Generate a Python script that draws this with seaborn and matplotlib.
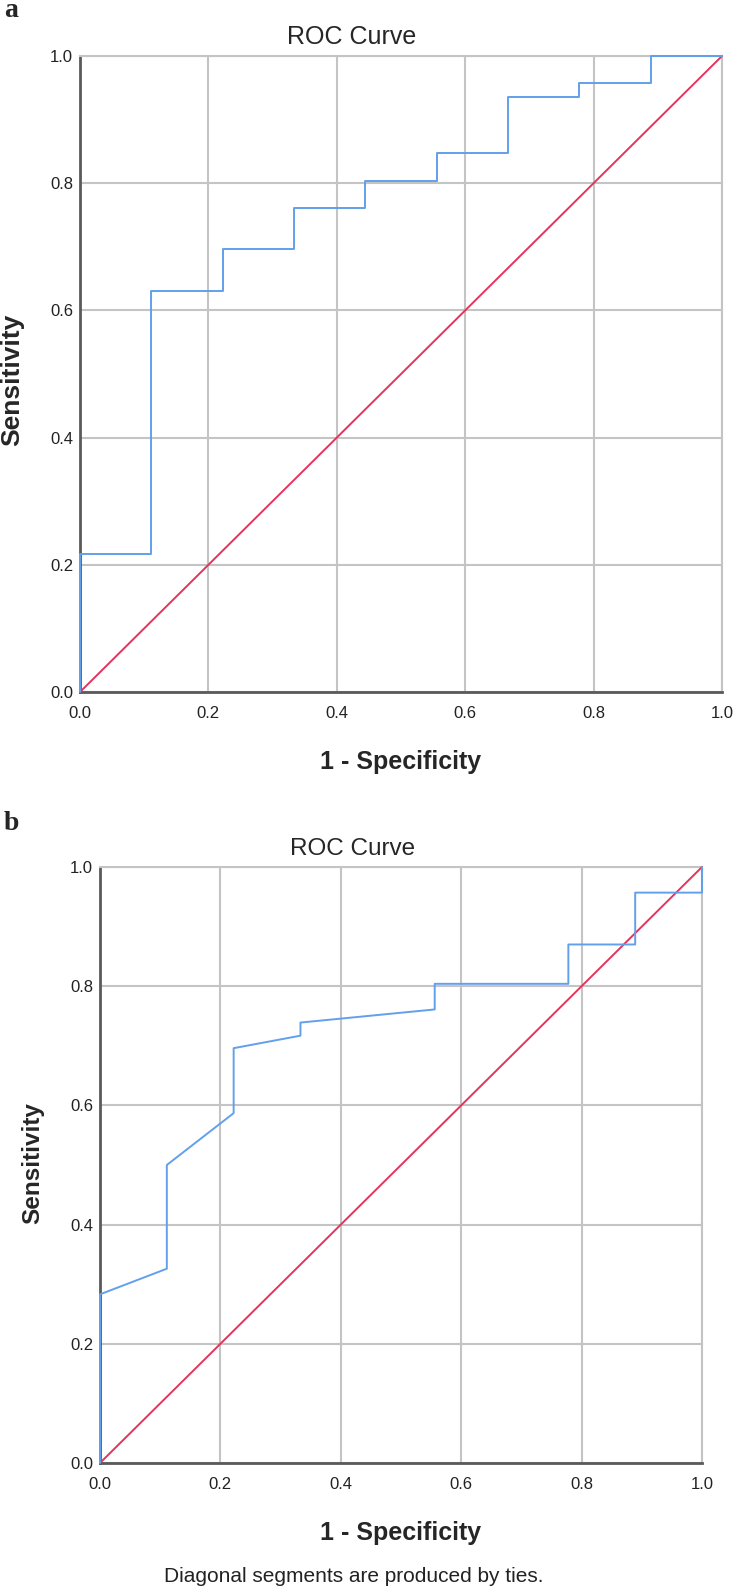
import matplotlib
matplotlib.use("Agg")
import matplotlib.pyplot as plt
import seaborn as sns
import pandas as pd

# ROC curve a : vertices (1 - specificity, sensitivity)
fpr_a = [0.0, 0.0, 0.111, 0.111, 0.222, 0.222, 0.333, 0.333, 0.444, 0.444,
         0.556, 0.556, 0.667, 0.667, 0.778, 0.778, 0.889, 0.889, 1.0]
tpr_a = [0.0, 0.217, 0.217, 0.630, 0.630, 0.696, 0.696, 0.761, 0.761, 0.804,
         0.804, 0.848, 0.848, 0.935, 0.935, 0.957, 0.957, 1.0, 1.0]

# ROC curve b (diagonal parts = ties)
fpr_b = [0.0, 0.0, 0.111, 0.111, 0.222, 0.222, 0.333, 0.333, 0.556, 0.556,
         0.778, 0.778, 0.889, 0.889, 1.0, 1.0]
tpr_b = [0.0, 0.283, 0.326, 0.500, 0.587, 0.696, 0.717, 0.739, 0.761, 0.804,
         0.804, 0.870, 0.870, 0.957, 0.957, 1.0]

ref_line = [0.0, 1.0]
ticks = [0.0, 0.2, 0.4, 0.6, 0.8, 1.0]
tick_labels = ['0.0', '0.2', '0.4', '0.6', '0.8', '1.0']

W, H = 733, 1593
blue = '#62a0ec'
red = '#e4345c'
grid_col = '#c4c4c4'

sns.set_style('white')
plt.rcParams['font.family'] = ['Liberation Sans', 'DejaVu Sans']

fig = plt.figure(figsize=(W / 100, H / 100), dpi=100)


def px(x, y):
    # pixel position -> figure fraction
    return x / W, 1 - y / H


def draw_roc(left, top, right, bottom, fpr, tpr):
    ax = fig.add_axes([left / W, 1 - bottom / H, (right - left) / W, (bottom - top) / H])
    sns.lineplot(x=fpr, y=tpr, sort=False, estimator=None, color=blue, lw=1.4,
                 ax=ax, clip_on=False, zorder=5)
    sns.lineplot(x=ref_line, y=ref_line, sort=False, estimator=None, color=red, lw=1.4,
                 ax=ax, clip_on=False, zorder=4)
    ax.set_xlim(0, 1)
    ax.set_ylim(0, 1)
    ax.set_xticks(ticks)
    ax.set_yticks(ticks)
    ax.set_xticklabels(tick_labels)
    ax.set_yticklabels(tick_labels)
    ax.tick_params(axis='both', length=0, labelsize=12, colors='#222222')
    ax.tick_params(axis='x', pad=10)
    ax.tick_params(axis='y', pad=5)
    ax.grid(True, color=grid_col, lw=1.5)
    ax.set_axisbelow(True)
    for s in ['left', 'bottom']:
        ax.spines[s].set_color('#5a5a5a')
        ax.spines[s].set_linewidth(2)
    for s in ['top', 'right']:
        ax.spines[s].set_color(grid_col)
        ax.spines[s].set_linewidth(1.5)
    ax.set_xlabel('')
    ax.set_ylabel('')
    return ax


# panel a
draw_roc(80, 56, 722, 692, fpr_a, tpr_a)
fig.text(*px(4, 17), 'a', family='Liberation Serif', fontweight='bold', fontsize=20)
fig.text(*px(352, 44), 'ROC Curve', fontsize=18, ha='center', va='baseline')
fig.text(*px(401, 769), '1 - Specificity', fontsize=18, fontweight='bold', ha='center', va='baseline')
fig.text(*px(12, 380), 'Sensitivity', fontsize=19, fontweight='bold', rotation=90,
         ha='center', va='center')

# panel b
draw_roc(100, 867, 702, 1463, fpr_b, tpr_b)
fig.text(*px(4, 830), 'b', family='Liberation Serif', fontweight='bold', fontsize=20)
fig.text(*px(353, 855), 'ROC Curve', fontsize=17.5, ha='center', va='baseline')
fig.text(*px(401, 1540), '1 - Specificity', fontsize=18, fontweight='bold', ha='center', va='baseline')
fig.text(*px(33, 1163), 'Sensitivity', fontsize=17.5, fontweight='bold', rotation=90,
         ha='center', va='center')
fig.text(*px(354, 1582), 'Diagonal segments are produced by ties.', fontsize=15,
         ha='center', va='baseline', color='#222222')

fig.savefig('out.png', dpi=100)
